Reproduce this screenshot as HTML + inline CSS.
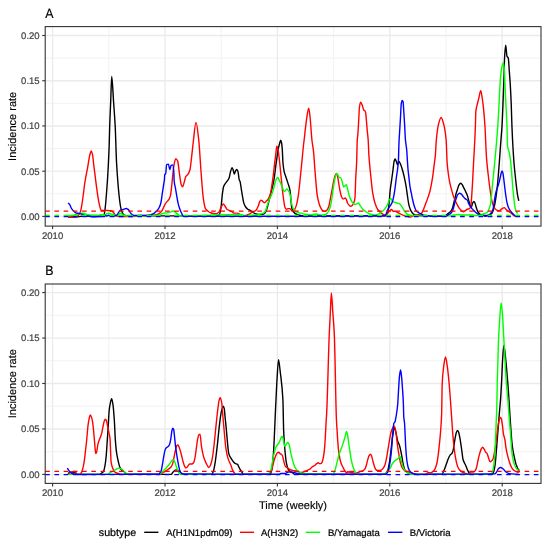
<!DOCTYPE html>
<html><head><meta charset="utf-8"><title>Incidence rate</title>
<style>html,body{margin:0;padding:0;background:#fff;}svg{display:block;}text{text-rendering:geometricPrecision;}</style>
</head><body>
<svg width="550" height="545" viewBox="0 0 550 545">
<rect width="550" height="545" fill="#fff"/>
<line x1="45.2" x2="541.0" y1="193.79" y2="193.79" stroke="#EFEFEF" stroke-width="0.8"/>
<line x1="45.2" x2="541.0" y1="148.56" y2="148.56" stroke="#EFEFEF" stroke-width="0.8"/>
<line x1="45.2" x2="541.0" y1="103.34" y2="103.34" stroke="#EFEFEF" stroke-width="0.8"/>
<line x1="45.2" x2="541.0" y1="58.11" y2="58.11" stroke="#EFEFEF" stroke-width="0.8"/>
<line x1="108.80" x2="108.80" y1="26.6" y2="226.1" stroke="#EFEFEF" stroke-width="0.8"/>
<line x1="221.20" x2="221.20" y1="26.6" y2="226.1" stroke="#EFEFEF" stroke-width="0.8"/>
<line x1="333.60" x2="333.60" y1="26.6" y2="226.1" stroke="#EFEFEF" stroke-width="0.8"/>
<line x1="446.00" x2="446.00" y1="26.6" y2="226.1" stroke="#EFEFEF" stroke-width="0.8"/>
<line x1="45.2" x2="541.0" y1="216.40" y2="216.40" stroke="#EBEBEB" stroke-width="1.35"/>
<line x1="45.2" x2="541.0" y1="171.18" y2="171.18" stroke="#EBEBEB" stroke-width="1.35"/>
<line x1="45.2" x2="541.0" y1="125.95" y2="125.95" stroke="#EBEBEB" stroke-width="1.35"/>
<line x1="45.2" x2="541.0" y1="80.73" y2="80.73" stroke="#EBEBEB" stroke-width="1.35"/>
<line x1="45.2" x2="541.0" y1="35.50" y2="35.50" stroke="#EBEBEB" stroke-width="1.35"/>
<line x1="52.60" x2="52.60" y1="26.6" y2="226.1" stroke="#EBEBEB" stroke-width="1.35"/>
<line x1="165.00" x2="165.00" y1="26.6" y2="226.1" stroke="#EBEBEB" stroke-width="1.35"/>
<line x1="277.40" x2="277.40" y1="26.6" y2="226.1" stroke="#EBEBEB" stroke-width="1.35"/>
<line x1="389.80" x2="389.80" y1="26.6" y2="226.1" stroke="#EBEBEB" stroke-width="1.35"/>
<line x1="502.20" x2="502.20" y1="26.6" y2="226.1" stroke="#EBEBEB" stroke-width="1.35"/>
<path d="M68.00,217.09 C70.91,217.02 73.82,217.00 76.73,216.87 C78.38,216.80 80.04,216.33 81.70,216.28 C89.04,216.02 96.38,216.26 103.72,215.91 C104.02,215.89 104.33,213.91 104.63,212.24 C105.55,207.21 106.47,194.57 107.39,181.05 C108.00,172.03 108.61,161.59 109.22,144.35 C109.37,140.04 109.53,131.33 109.68,126.58 C110.02,115.93 110.36,109.48 110.71,101.13 C111.05,92.78 111.39,76.45 111.74,76.45 C112.34,76.45 112.93,92.47 113.53,101.13 C114.09,109.18 114.65,115.68 115.21,126.58 C115.66,135.42 116.11,154.19 116.56,162.70 C117.10,172.89 117.64,179.66 118.18,186.00 C118.64,191.33 119.09,195.94 119.55,199.64 C119.85,202.10 120.15,204.34 120.45,206.00 C120.76,207.66 121.06,209.12 121.36,210.09 C121.67,211.06 121.97,211.69 122.27,212.36 C122.58,213.04 122.88,213.83 123.18,214.18 C123.79,214.88 124.39,215.40 125.00,215.55 C126.21,215.83 127.42,216.00 128.64,216.00 C134.09,216.00 139.55,215.91 145.00,215.91 C149.45,215.91 153.90,215.91 158.35,215.91 C177.08,215.91 195.80,215.89 214.53,215.76 C216.05,215.74 217.57,215.58 219.09,215.10 C219.74,214.90 220.39,211.12 221.04,207.29 C221.48,204.74 221.91,197.53 222.34,194.27 C222.78,191.02 223.21,187.63 223.65,186.46 C224.30,184.69 224.95,184.17 225.60,183.20 C226.25,182.24 226.90,181.57 227.55,180.60 C228.07,179.82 228.59,179.28 229.11,177.99 C229.55,176.92 229.98,173.61 230.42,172.14 C230.98,170.21 231.55,167.58 232.11,167.58 C232.54,167.58 232.98,169.54 233.41,170.83 C233.72,171.74 234.02,174.09 234.32,174.09 C234.67,174.09 235.02,172.14 235.36,171.48 C235.80,170.66 236.23,169.53 236.67,169.53 C237.10,169.53 237.53,170.43 237.97,171.48 C238.40,172.54 238.84,178.79 239.27,179.95 C239.51,180.59 239.76,180.61 240.00,181.25 C240.43,182.39 240.87,186.46 241.30,189.06 C241.74,191.67 242.17,194.51 242.60,196.88 C243.04,199.24 243.47,202.11 243.91,203.39 C244.56,205.30 245.21,206.42 245.86,207.29 C246.51,208.16 247.16,208.80 247.81,209.24 C248.68,209.83 249.55,210.03 250.42,210.55 C251.28,211.07 252.15,211.98 253.02,212.50 C253.89,213.02 254.76,213.51 255.62,213.80 C256.49,214.09 257.36,214.45 258.23,214.45 C259.31,214.45 260.40,214.45 261.48,214.45 C262.35,214.45 263.22,214.18 264.09,213.80 C264.74,213.52 265.39,212.43 266.04,211.20 C266.48,210.38 266.91,208.77 267.34,207.29 C267.99,205.08 268.65,202.08 269.30,199.48 C269.95,196.88 270.60,194.27 271.25,191.67 C271.90,189.06 272.55,187.02 273.20,183.85 C273.64,181.74 274.07,179.02 274.51,176.04 C274.94,173.07 275.37,168.87 275.81,165.62 C276.24,162.38 276.68,159.58 277.11,156.51 C277.41,154.36 277.72,151.63 278.02,150.00 C278.55,147.18 279.07,145.34 279.60,143.50 C279.97,142.22 280.33,140.10 280.70,140.10 C281.00,140.10 281.30,141.52 281.60,143.00 C281.84,144.18 282.08,146.85 282.32,150.00 C282.53,152.86 282.75,160.64 282.97,163.02 C283.40,167.78 283.84,170.31 284.27,172.14 C284.70,173.96 285.14,174.74 285.57,176.04 C286.01,177.34 286.44,178.65 286.88,179.95 C287.31,181.25 287.74,182.45 288.18,183.85 C288.78,185.83 289.39,187.20 290.00,190.36 C290.63,193.63 291.25,206.70 291.88,208.57 C292.80,211.30 293.72,212.43 294.63,213.16 C295.86,214.12 297.08,214.70 298.30,214.99 C300.44,215.49 302.58,215.91 304.72,215.91 C314.82,215.91 324.91,215.91 335.00,215.91 C351.68,215.91 368.36,215.91 385.05,215.91 C385.96,215.91 386.88,214.49 387.80,212.24 C388.23,211.19 388.65,206.88 389.08,203.06 C389.45,199.79 389.82,193.49 390.18,190.22 C390.61,186.40 391.04,184.10 391.47,181.05 C391.90,177.99 392.32,175.00 392.75,171.87 C393.24,168.29 393.73,162.34 394.22,160.86 C394.53,159.94 394.83,159.03 395.14,159.03 C395.57,159.03 395.99,160.73 396.42,161.78 C396.79,162.68 397.16,164.90 397.52,164.90 C397.95,164.90 398.38,161.23 398.81,161.23 C399.42,161.23 400.03,163.16 400.64,164.53 C401.25,165.91 401.87,167.94 402.48,170.04 C403.09,172.13 403.70,174.66 404.31,177.38 C404.92,180.09 405.54,182.91 406.15,186.55 C406.57,189.10 407.00,192.87 407.43,195.72 C407.92,198.99 408.41,202.89 408.90,204.90 C409.51,207.41 410.12,209.24 410.73,210.40 C411.65,212.14 412.57,213.49 413.49,214.07 C414.71,214.85 415.93,215.46 417.16,215.54 C421.44,215.81 425.72,215.91 430.00,215.91 C435.07,215.91 440.14,215.89 445.21,215.76 C446.08,215.73 446.94,214.45 447.81,213.80 C448.68,213.15 449.55,212.76 450.42,211.85 C451.07,211.16 451.72,210.17 452.37,208.59 C452.80,207.54 453.24,205.12 453.67,203.39 C454.11,201.65 454.54,199.91 454.97,198.18 C455.41,196.44 455.84,194.46 456.28,192.97 C456.71,191.48 457.14,190.36 457.58,189.06 C458.01,187.76 458.45,185.89 458.88,185.16 C459.44,184.20 460.01,183.20 460.57,183.20 C461.09,183.20 461.61,183.88 462.14,184.51 C462.57,185.02 463.00,186.24 463.44,187.11 C464.09,188.41 464.74,189.61 465.39,191.02 C466.04,192.42 466.69,193.73 467.34,195.57 C467.78,196.80 468.21,198.61 468.65,200.13 C469.08,201.65 469.51,203.58 469.95,204.69 C470.38,205.79 470.82,207.29 471.25,207.29 C471.68,207.29 472.12,204.25 472.55,203.39 C472.99,202.52 473.42,201.43 473.85,201.43 C474.20,201.43 474.55,202.08 474.90,202.73 C475.20,203.30 475.50,204.99 475.81,205.99 C476.24,207.41 476.68,208.85 477.11,209.90 C477.54,210.94 477.98,211.91 478.41,212.50 C479.06,213.39 479.71,214.19 480.36,214.45 C481.23,214.81 482.10,214.93 482.97,215.10 C483.83,215.28 484.69,215.54 485.55,215.54 C486.77,215.54 488.00,215.30 489.22,214.99 C490.14,214.76 491.06,214.16 491.97,213.16 C492.58,212.49 493.20,210.61 493.81,208.57 C494.42,206.53 495.03,203.16 495.64,199.39 C496.25,195.63 496.87,190.59 497.48,184.72 C498.09,178.84 498.70,170.72 499.31,162.70 C499.74,157.08 500.17,150.16 500.60,144.35 C501.07,137.92 501.54,134.00 502.02,126.00 C502.32,120.84 502.63,112.36 502.94,104.90 C503.24,97.43 503.55,89.92 503.85,81.05 C504.10,73.95 504.34,61.31 504.59,57.19 C504.95,51.02 505.32,45.27 505.69,45.27 C506.12,45.27 506.54,55.23 506.97,56.28 C507.40,57.32 507.83,56.99 508.26,58.11 C508.62,59.07 508.99,67.02 509.36,71.87 C509.66,75.92 509.97,79.68 510.28,84.72 C510.58,89.75 510.89,95.54 511.19,103.06 C511.44,109.08 511.68,120.20 511.93,126.00 C512.61,142.30 513.30,153.94 513.99,162.70 C514.60,170.48 515.21,175.61 515.83,181.05 C516.44,186.48 517.05,192.30 517.66,195.72 C518.04,197.85 518.42,199.11 518.80,200.80" fill="none" stroke="#000000" stroke-width="1.4" stroke-linejoin="round" stroke-linecap="butt"/>
<path d="M68.18,216.91 C69.39,217.06 70.61,217.36 71.82,217.36 C73.33,217.36 74.85,217.21 76.36,216.91 C76.97,216.79 77.58,216.18 78.18,215.55 C78.64,215.07 79.09,214.07 79.55,213.27 C79.86,212.72 80.18,212.36 80.50,211.53 C80.96,210.33 81.42,207.32 81.88,204.65 C82.34,201.97 82.79,198.44 83.25,195.02 C83.71,191.60 84.17,187.16 84.63,184.02 C85.09,180.87 85.55,178.26 86.00,175.76 C86.46,173.26 86.92,171.39 87.38,168.89 C87.84,166.38 88.30,163.13 88.76,160.63 C89.21,158.13 89.67,155.26 90.13,153.76 C90.50,152.55 90.86,151.00 91.23,151.00 C91.69,151.00 92.15,153.03 92.61,155.13 C92.93,156.60 93.25,160.72 93.57,163.38 C94.03,167.19 94.49,170.72 94.94,174.39 C95.40,178.06 95.86,181.97 96.32,185.39 C96.78,188.82 97.24,192.06 97.70,195.02 C98.15,197.98 98.61,201.27 99.07,203.27 C99.76,206.28 100.45,209.55 101.13,210.15 C101.36,210.35 101.59,210.55 101.82,210.55 C102.42,210.55 103.03,210.55 103.64,210.55 C104.09,210.55 104.55,210.09 105.00,210.09 C105.91,210.09 106.82,210.46 107.73,210.55 C108.64,210.63 109.55,210.62 110.45,210.73 C111.06,210.80 111.67,211.10 112.27,211.45 C112.73,211.72 113.18,212.30 113.64,212.82 C114.09,213.34 114.55,214.19 115.00,214.64 C115.61,215.23 116.21,215.77 116.82,216.00 C117.42,216.23 118.03,216.45 118.64,216.45 C120.15,216.45 121.67,216.45 123.18,216.45 C126.21,216.45 129.24,216.45 132.27,216.45 C135.30,216.45 138.33,216.21 141.36,216.00 C142.88,215.90 144.39,215.60 145.91,215.55 C147.27,215.50 148.64,215.50 150.00,215.45 C151.82,215.39 153.64,215.26 155.45,215.00 C156.67,214.83 157.88,214.31 159.09,213.64 C160.00,213.13 160.91,212.15 161.82,210.91 C162.42,210.08 163.03,208.48 163.64,207.27 C164.24,206.06 164.85,204.57 165.45,203.64 C166.06,202.70 166.67,202.12 167.27,201.36 C167.88,200.61 168.48,200.14 169.09,199.09 C169.55,198.30 170.00,197.26 170.45,195.45 C170.76,194.25 171.06,191.59 171.36,189.09 C171.67,186.60 171.97,182.84 172.27,180.00 C172.83,174.78 173.39,168.36 173.94,165.45 C174.56,162.25 175.17,158.66 175.78,158.66 C176.39,158.66 177.00,159.61 177.61,160.86 C178.23,162.12 178.84,169.75 179.45,173.71 C180.06,177.66 180.67,183.14 181.28,184.72 C181.71,185.82 182.14,186.92 182.57,186.92 C183.06,186.92 183.55,184.38 184.04,182.88 C184.65,181.01 185.26,177.41 185.87,176.46 C186.48,175.51 187.09,175.44 187.71,174.62 C188.44,173.64 189.17,172.52 189.91,170.04 C190.40,168.38 190.89,163.02 191.38,159.03 C191.99,154.04 192.60,147.45 193.21,142.51 C194.14,135.01 195.07,122.40 196.00,122.40 C196.92,122.40 197.83,131.87 198.75,140.07 C199.02,142.48 199.29,146.39 199.56,150.00 C199.99,155.82 200.43,163.49 200.86,169.53 C201.29,175.58 201.73,181.55 202.16,186.46 C202.60,191.36 203.03,196.65 203.46,199.48 C204.11,203.73 204.77,207.49 205.42,208.59 C206.28,210.07 207.15,210.55 208.02,211.20 C208.89,211.85 209.76,212.41 210.62,212.76 C211.49,213.11 212.36,213.41 213.23,213.54 C214.10,213.67 214.97,213.80 215.83,213.80 C216.48,213.80 217.14,213.50 217.79,213.15 C218.44,212.80 219.09,211.65 219.74,210.55 C220.39,209.44 221.04,206.99 221.69,205.99 C222.26,205.13 222.82,204.04 223.39,204.04 C223.91,204.04 224.43,205.25 224.95,205.99 C225.60,206.91 226.25,208.73 226.90,209.24 C227.77,209.93 228.64,210.11 229.51,210.55 C230.37,210.98 231.24,211.35 232.11,211.85 C232.76,212.22 233.41,213.15 234.06,213.15 C234.93,213.15 235.80,213.15 236.67,213.15 C237.53,213.15 238.40,213.33 239.27,213.80 C239.51,213.93 239.76,215.76 240.00,215.76 C241.30,215.76 242.60,215.76 243.91,215.76 C244.77,215.76 245.64,215.37 246.51,215.10 C247.60,214.77 248.68,214.32 249.77,213.80 C250.85,213.28 251.94,212.50 253.02,211.85 C254.11,211.20 255.19,210.94 256.28,209.90 C256.93,209.27 257.58,207.57 258.23,205.99 C258.66,204.93 259.10,202.95 259.53,202.08 C259.97,201.22 260.40,200.13 260.83,200.13 C261.27,200.13 261.70,200.49 262.14,200.78 C262.57,201.07 263.00,201.79 263.44,202.08 C263.87,202.37 264.31,202.73 264.74,202.73 C265.17,202.73 265.61,201.87 266.04,201.43 C266.69,200.78 267.34,200.37 267.99,199.48 C268.43,198.89 268.86,197.92 269.30,196.88 C269.73,195.83 270.16,194.70 270.60,192.97 C271.03,191.23 271.47,187.96 271.90,185.16 C272.34,182.35 272.77,179.46 273.20,176.04 C273.64,172.62 274.07,168.00 274.51,164.32 C274.94,160.65 275.37,157.30 275.81,153.91 C276.14,151.32 276.47,146.30 276.80,146.30 C277.17,146.30 277.53,147.63 277.90,148.90 C278.50,151.00 279.11,157.69 279.71,163.02 C280.15,166.85 280.58,171.70 281.02,176.04 C281.45,180.38 281.88,185.20 282.32,189.06 C282.75,192.92 283.19,196.50 283.62,199.48 C284.05,202.46 284.49,206.25 284.92,207.29 C285.36,208.33 285.79,209.24 286.22,209.24 C286.88,209.24 287.53,208.59 288.18,208.59 C288.78,208.59 289.39,208.59 290.00,208.59 C290.75,208.59 291.50,211.32 292.25,211.32 C293.04,211.32 293.84,210.44 294.63,209.49 C295.24,208.75 295.86,206.94 296.47,204.90 C297.08,202.86 297.69,199.66 298.30,195.72 C298.91,191.79 299.53,185.01 300.14,179.21 C300.75,173.42 301.36,166.98 301.97,160.86 C302.58,154.75 303.20,147.74 303.81,142.51 C303.91,141.60 304.02,140.87 304.13,140.00 C304.89,133.81 305.66,125.28 306.42,120.28 C307.19,115.27 307.95,108.17 308.72,108.17 C309.17,108.17 309.63,113.57 310.09,117.52 C310.70,122.80 311.31,134.45 311.93,140.00 C312.46,144.86 313.00,146.65 313.53,151.69 C314.02,156.29 314.51,164.87 315.00,171.00 C315.37,175.59 315.73,180.20 316.10,184.20 C316.47,188.20 316.83,192.83 317.20,195.20 C317.77,198.86 318.33,201.06 318.90,203.00 C319.43,204.83 319.97,206.35 320.50,207.40 C321.23,208.85 321.97,210.31 322.70,210.70 C323.43,211.09 324.17,211.40 324.90,211.40 C325.63,211.40 326.37,210.80 327.10,210.10 C327.67,209.56 328.23,208.04 328.80,206.30 C329.33,204.66 329.87,201.18 330.40,198.50 C330.97,195.66 331.53,192.72 332.10,189.70 C332.63,186.85 333.17,183.20 333.70,180.90 C334.27,178.46 334.83,175.75 335.40,174.90 C335.77,174.35 336.13,173.80 336.50,173.80 C336.87,173.80 337.23,175.22 337.60,176.50 C337.97,177.78 338.33,180.90 338.70,183.10 C339.07,185.30 339.43,187.89 339.80,189.70 C340.33,192.34 340.87,195.04 341.40,196.30 C341.97,197.64 342.53,199.10 343.10,199.10 C343.47,199.10 343.83,198.68 344.20,198.50 C344.57,198.32 344.93,198.00 345.30,198.00 C345.67,198.00 346.03,198.87 346.40,199.60 C346.77,200.33 347.13,202.29 347.50,203.00 C348.03,204.04 348.57,204.73 349.10,205.20 C349.67,205.70 350.23,206.30 350.80,206.30 C351.33,206.30 351.87,205.74 352.40,205.20 C352.97,204.63 353.53,203.56 354.10,201.90 C354.40,201.02 354.70,200.00 355.00,197.40 C355.23,195.41 355.46,184.17 355.69,179.21 C355.99,172.60 356.30,170.02 356.61,162.70 C356.83,157.37 357.05,143.38 357.27,140.00 C357.45,137.24 357.64,136.74 357.82,134.55 C358.12,130.89 358.42,125.07 358.73,120.00 C358.97,115.94 359.21,109.13 359.45,107.27 C359.82,104.49 360.18,102.18 360.55,102.18 C361.15,102.18 361.76,103.98 362.36,105.45 C362.79,106.49 363.21,109.49 363.64,110.00 C364.06,110.51 364.48,110.41 364.91,110.91 C365.15,111.19 365.39,111.76 365.64,112.73 C365.88,113.70 366.12,117.36 366.36,120.00 C366.67,123.29 366.97,127.60 367.27,130.91 C367.58,134.21 367.88,135.81 368.18,140.00 C368.42,143.31 368.66,151.71 368.90,155.36 C369.51,164.68 370.12,169.49 370.73,175.54 C371.35,181.60 371.96,188.27 372.57,192.06 C373.36,196.98 374.16,200.58 374.95,203.06 C375.87,205.93 376.79,208.18 377.71,209.49 C378.93,211.23 380.15,212.34 381.38,213.16 C382.60,213.97 383.82,214.99 385.05,214.99 C385.96,214.99 386.88,213.98 387.80,213.16 C388.41,212.61 389.02,211.33 389.63,210.77 C390.24,210.21 390.86,209.49 391.47,209.49 C392.08,209.49 392.69,211.32 393.30,211.32 C393.87,211.32 394.43,211.20 395.00,211.20 C395.87,211.20 396.74,212.07 397.60,212.50 C398.47,212.93 399.34,213.37 400.21,213.80 C401.08,214.24 401.94,214.81 402.81,215.10 C403.68,215.39 404.55,215.50 405.42,215.76 C406.28,216.01 407.15,216.48 408.02,216.67 C408.89,216.85 409.76,217.06 410.62,217.06 C411.49,217.06 412.36,216.04 413.23,215.76 C414.10,215.47 414.97,215.32 415.83,215.10 C416.70,214.89 417.57,214.70 418.44,214.45 C419.09,214.27 419.74,214.07 420.39,213.80 C420.82,213.63 421.26,213.50 421.69,213.15 C422.13,212.80 422.56,211.51 422.99,210.55 C423.43,209.58 423.86,208.41 424.30,207.29 C424.95,205.62 425.60,203.82 426.25,202.08 C426.90,200.35 427.55,198.80 428.20,196.88 C428.85,194.95 429.51,193.00 430.16,190.36 C430.59,188.61 431.02,186.22 431.46,183.85 C431.89,181.49 432.33,179.02 432.76,176.04 C433.19,173.07 433.63,169.10 434.06,165.62 C434.50,162.15 434.93,159.89 435.36,155.21 C435.69,151.74 436.01,143.41 436.33,140.00 C437.00,132.87 437.68,127.58 438.35,124.86 C439.27,121.16 440.18,117.52 441.10,117.52 C442.02,117.52 442.94,121.33 443.85,124.86 C444.62,127.80 445.38,131.59 446.15,140.00 C446.49,143.72 446.82,158.58 447.16,163.02 C447.60,168.72 448.03,171.61 448.46,174.74 C448.90,177.86 449.33,180.44 449.77,182.55 C450.42,185.72 451.07,188.00 451.72,190.36 C452.37,192.73 453.02,195.09 453.67,196.88 C454.32,198.66 454.97,200.03 455.62,201.43 C456.28,202.83 456.93,204.15 457.58,205.34 C458.23,206.52 458.88,207.78 459.53,208.59 C460.18,209.41 460.83,210.03 461.48,210.55 C462.14,211.07 462.79,211.85 463.44,211.85 C464.09,211.85 464.74,210.98 465.39,210.55 C466.04,210.11 466.69,209.53 467.34,209.24 C467.99,208.96 468.65,208.93 469.30,208.59 C469.73,208.37 470.16,208.14 470.60,207.29 C470.82,206.87 471.03,204.29 471.25,202.08 C471.47,199.87 471.68,196.21 471.90,192.97 C472.12,189.73 472.34,186.41 472.55,182.55 C472.77,178.69 472.99,173.64 473.20,169.53 C473.42,165.42 473.64,161.93 473.85,157.81 C474.37,147.96 474.89,140.62 475.41,126.00 C475.54,122.56 475.66,113.65 475.78,112.24 C476.09,108.71 476.39,108.24 476.70,106.73 C477.31,103.73 477.92,101.84 478.53,99.39 C479.27,96.46 480.00,90.59 480.73,90.59 C481.10,90.59 481.47,93.66 481.83,95.72 C482.26,98.13 482.69,101.30 483.12,104.90 C483.43,107.47 483.73,110.62 484.04,114.07 C484.34,117.53 484.65,121.21 484.95,126.00 C485.46,133.90 485.96,150.32 486.47,157.19 C487.08,165.52 487.69,170.10 488.30,175.54 C488.91,180.98 489.53,186.03 490.14,190.22 C490.75,194.41 491.36,198.78 491.97,201.23 C492.58,203.68 493.20,205.65 493.81,206.73 C494.72,208.35 495.64,209.64 496.56,210.04 C497.48,210.44 498.39,210.77 499.31,210.77 C500.23,210.77 501.15,209.07 502.06,208.57 C502.80,208.17 503.53,207.65 504.27,207.65 C504.88,207.65 505.49,208.95 506.10,209.49 C506.90,210.18 507.69,210.75 508.49,211.32 C509.40,211.98 510.32,212.46 511.24,213.16 C512.16,213.85 513.07,215.05 513.99,215.54 C514.60,215.87 515.21,216.15 515.83,216.28 C516.12,216.33 516.41,216.36 516.70,216.40" fill="none" stroke="#FF0000" stroke-width="1.4" stroke-linejoin="round" stroke-linecap="butt"/>
<path d="M68.18,215.55 C70.00,215.45 71.82,215.43 73.64,215.27 C75.15,215.14 76.67,214.14 78.18,213.73 C79.09,213.48 80.00,213.09 80.91,213.09 C81.82,213.09 82.73,213.17 83.64,213.27 C84.85,213.41 86.06,214.44 87.27,214.64 C88.79,214.88 90.30,215.09 91.82,215.09 C93.94,215.09 96.06,215.09 98.18,215.09 C99.09,215.09 100.00,214.64 100.91,214.64 C101.82,214.64 102.73,214.64 103.64,214.64 C104.09,214.64 104.55,215.09 105.00,215.09 C105.61,215.09 106.21,213.95 106.82,213.73 C107.42,213.50 108.03,213.27 108.64,213.27 C109.24,213.27 109.85,213.56 110.45,213.73 C111.36,213.98 112.27,214.38 113.18,214.64 C113.79,214.81 114.39,214.97 115.00,215.09 C115.91,215.28 116.82,215.55 117.73,215.55 C118.33,215.55 118.94,214.02 119.55,213.73 C120.00,213.51 120.45,213.27 120.91,213.27 C121.36,213.27 121.82,213.86 122.27,214.18 C122.88,214.61 123.48,215.40 124.09,215.55 C125.30,215.83 126.52,216.00 127.73,216.00 C129.24,216.00 130.76,216.00 132.27,216.00 C135.30,216.00 138.33,216.00 141.36,216.00 C144.39,216.00 147.42,215.91 150.45,215.82 C151.97,215.77 153.48,215.55 155.00,215.55 C156.12,215.54 157.23,215.54 158.35,215.54 C159.57,215.54 160.80,214.07 162.02,213.71 C163.85,213.17 165.69,212.97 167.52,212.61 C168.75,212.36 169.97,212.24 171.19,211.87 C171.80,211.69 172.42,210.95 173.03,210.95 C173.64,210.95 174.25,211.50 174.86,211.87 C175.78,212.43 176.70,213.41 177.61,214.07 C178.53,214.74 179.45,215.91 180.37,215.91 C200.24,215.91 220.12,214.45 240.00,214.45 C242.17,214.45 244.34,215.76 246.51,215.76 C248.68,215.76 250.85,215.29 253.02,215.10 C254.76,214.96 256.49,214.94 258.23,214.71 C259.10,214.60 259.97,214.06 260.83,213.80 C261.70,213.55 262.57,213.51 263.44,213.15 C264.09,212.88 264.74,212.21 265.39,211.20 C265.82,210.52 266.26,208.59 266.69,207.29 C267.13,205.99 267.56,204.69 267.99,203.39 C268.43,202.08 268.86,200.53 269.30,199.48 C269.95,197.90 270.60,197.06 271.25,195.57 C271.90,194.08 272.55,192.45 273.20,190.36 C273.85,188.28 274.51,184.64 275.16,182.55 C275.72,180.74 276.28,178.60 276.85,177.99 C277.15,177.67 277.46,177.34 277.76,177.34 C278.19,177.34 278.63,179.08 279.06,179.95 C279.50,180.82 279.93,181.59 280.36,182.55 C280.80,183.52 281.23,184.72 281.67,185.81 C282.10,186.89 282.53,188.10 282.97,189.06 C283.40,190.03 283.84,191.67 284.27,191.67 C284.70,191.67 285.14,190.80 285.57,190.36 C286.01,189.93 286.44,189.06 286.88,189.06 C287.31,189.06 287.74,189.78 288.18,190.36 C288.78,191.18 289.39,192.39 290.00,194.27 C290.63,196.21 291.25,202.73 291.88,204.90 C292.49,207.02 293.10,208.67 293.72,209.49 C294.63,210.71 295.55,211.47 296.47,211.87 C298.00,212.55 299.53,212.75 301.06,213.16 C302.28,213.48 303.50,213.86 304.72,214.07 C307.17,214.50 309.62,214.99 312.06,214.99 C313.04,214.99 314.02,214.00 315.00,214.00 C316.10,214.00 317.20,214.32 318.30,214.50 C319.40,214.68 320.50,215.10 321.60,215.10 C322.70,215.10 323.80,214.93 324.90,214.70 C325.63,214.55 326.37,214.04 327.10,213.40 C327.67,212.90 328.23,211.84 328.80,210.70 C329.33,209.62 329.87,208.23 330.40,206.30 C330.77,204.98 331.13,202.95 331.50,200.80 C331.87,198.65 332.23,195.54 332.60,193.00 C333.03,190.00 333.47,186.74 333.90,184.20 C334.40,181.27 334.90,178.18 335.40,176.50 C335.83,175.04 336.27,173.20 336.70,173.20 C337.17,173.20 337.63,174.64 338.10,175.40 C338.53,176.11 338.97,177.60 339.40,177.60 C339.80,177.60 340.20,177.60 340.60,177.60 C341.07,177.60 341.53,179.55 342.00,180.90 C342.53,182.45 343.07,187.00 343.60,187.00 C344.07,187.00 344.53,186.27 345.00,185.90 C345.47,185.53 345.93,184.80 346.40,184.80 C346.77,184.80 347.13,187.23 347.50,188.60 C348.03,190.59 348.57,193.50 349.10,195.20 C349.67,197.01 350.23,198.42 350.80,199.60 C351.33,200.71 351.87,201.72 352.40,202.40 C352.97,203.12 353.53,203.71 354.10,204.10 C354.40,204.31 354.70,204.60 355.00,204.60 C355.54,204.60 356.07,204.21 356.61,203.98 C357.22,203.72 357.83,203.06 358.44,203.06 C359.05,203.06 359.66,204.95 360.28,205.82 C361.19,207.12 362.11,208.59 363.03,209.49 C364.25,210.68 365.47,211.50 366.70,212.24 C367.92,212.97 369.14,213.67 370.37,214.07 C371.59,214.48 372.81,214.99 374.04,214.99 C375.26,214.99 376.48,214.73 377.71,214.44 C378.93,214.15 380.15,213.16 381.38,212.24 C382.60,211.32 383.82,210.12 385.05,208.57 C385.96,207.41 386.88,205.84 387.80,203.98 C388.41,202.74 389.02,200.05 389.63,199.39 C390.06,198.93 390.49,198.48 390.92,198.48 C391.41,198.48 391.90,200.83 392.39,201.23 C393.00,201.72 393.61,201.90 394.22,202.15 C395.14,202.52 396.06,202.76 396.97,203.06 C397.89,203.37 398.81,203.49 399.72,203.98 C400.64,204.47 401.56,206.29 402.48,207.65 C403.39,209.01 404.31,211.27 405.23,212.24 C406.45,213.53 407.68,214.64 408.90,214.99 C410.73,215.51 412.57,215.91 414.40,215.91 C419.60,215.91 424.80,215.91 430.00,215.91 C436.90,215.91 443.79,215.91 450.69,215.91 C451.91,215.91 453.13,215.22 454.36,214.99 C455.58,214.76 456.80,214.44 458.03,214.44 C459.25,214.44 460.47,214.99 461.70,214.99 C464.76,214.99 467.81,214.99 470.87,214.99 C472.71,214.99 474.54,215.54 476.38,215.54 C477.60,215.54 478.82,215.25 480.05,214.99 C481.27,214.73 482.49,214.16 483.72,213.71 C484.94,213.25 486.16,213.12 487.39,212.24 C488.00,211.80 488.61,210.18 489.22,208.57 C489.71,207.28 490.20,205.76 490.69,203.06 C491.12,200.71 491.54,194.66 491.97,190.22 C493.91,170.06 495.86,153.39 497.80,126.00 C498.10,121.69 498.41,116.02 498.72,110.40 C499.02,104.78 499.33,97.49 499.63,92.06 C499.94,86.62 500.24,80.90 500.55,77.38 C500.86,73.85 501.16,70.74 501.47,69.12 C502.08,65.88 502.69,62.70 503.30,62.70 C503.61,62.70 503.91,65.32 504.22,68.20 C504.53,71.09 504.83,81.98 505.14,88.39 C505.44,94.79 505.75,100.47 506.06,106.73 C506.36,113.00 506.67,117.94 506.97,126.00 C507.17,131.24 507.37,144.67 507.57,146.18 C508.06,149.91 508.55,149.46 509.04,151.69 C509.46,153.64 509.89,155.91 510.32,159.03 C510.75,162.14 511.18,166.96 511.61,171.87 C511.97,176.08 512.34,182.34 512.71,186.55 C513.13,191.46 513.56,195.83 513.99,199.39 C514.42,202.96 514.85,206.97 515.28,208.57 C515.76,210.40 516.25,211.46 516.74,212.24 C517.06,212.75 517.38,213.01 517.70,213.40" fill="none" stroke="#00FF00" stroke-width="1.4" stroke-linejoin="round" stroke-linecap="butt"/>
<path d="M68.18,202.82 C68.79,203.58 69.39,204.09 70.00,205.09 C70.45,205.84 70.91,207.50 71.36,208.27 C71.82,209.04 72.27,209.57 72.73,210.09 C73.33,210.79 73.94,211.43 74.55,211.91 C75.15,212.39 75.76,212.99 76.36,213.09 C76.97,213.20 77.58,213.19 78.18,213.27 C78.79,213.36 79.39,213.58 80.00,213.73 C80.61,213.88 81.21,214.00 81.82,214.18 C82.42,214.37 83.03,214.68 83.64,214.91 C84.24,215.14 84.85,215.37 85.45,215.55 C86.06,215.72 86.67,215.88 87.27,216.00 C88.18,216.18 89.09,216.34 90.00,216.45 C90.91,216.57 91.82,216.73 92.73,216.73 C95.45,216.73 98.18,216.63 100.91,216.45 C102.27,216.37 103.64,215.55 105.00,215.55 C105.61,215.55 106.21,216.00 106.82,216.00 C107.42,216.00 108.03,215.27 108.64,215.27 C109.24,215.27 109.85,216.00 110.45,216.00 C111.67,216.00 112.88,216.00 114.09,216.00 C115.00,216.00 115.91,215.61 116.82,215.09 C117.42,214.75 118.03,213.19 118.64,212.36 C119.24,211.54 119.85,210.25 120.45,210.09 C121.06,209.93 121.67,209.95 122.27,209.82 C122.88,209.69 123.48,209.37 124.09,209.18 C124.85,208.95 125.61,208.55 126.36,208.55 C126.82,208.55 127.27,208.89 127.73,209.18 C128.18,209.47 128.64,209.98 129.09,210.55 C129.55,211.11 130.00,212.24 130.45,212.82 C131.06,213.58 131.67,214.23 132.27,214.64 C132.88,215.04 133.48,215.55 134.09,215.55 C135.00,215.55 135.91,215.55 136.82,215.55 C138.33,215.55 139.85,215.27 141.36,215.27 C142.88,215.27 144.39,215.55 145.91,215.55 C147.27,215.55 148.64,215.27 150.00,215.00 C151.21,214.76 152.42,214.27 153.64,213.64 C154.55,213.16 155.45,212.30 156.36,211.36 C157.27,210.43 158.18,209.40 159.09,207.73 C159.70,206.61 160.30,205.13 160.91,202.73 C161.36,200.92 161.82,196.67 162.27,193.64 C162.73,190.61 163.18,187.47 163.64,184.55 C163.88,182.99 164.12,182.13 164.36,180.00 C164.50,178.81 164.63,174.91 164.77,174.62 C165.08,173.98 165.38,174.26 165.69,173.71 C165.99,173.15 166.30,164.67 166.61,164.53 C167.22,164.26 167.83,164.17 168.44,164.17 C168.87,164.17 169.30,169.67 169.72,169.67 C170.21,169.67 170.70,165.77 171.19,165.45 C171.68,165.12 172.17,164.90 172.66,164.90 C173.09,164.90 173.52,167.43 173.94,173.71 C173.99,174.42 174.04,179.36 174.09,180.00 C174.55,186.01 175.00,185.45 175.45,188.18 C175.91,190.91 176.36,193.80 176.82,196.36 C177.27,198.93 177.73,201.77 178.18,203.64 C178.64,205.50 179.09,206.84 179.55,208.18 C180.00,209.53 180.45,210.78 180.91,211.82 C181.36,212.86 181.82,213.82 182.27,214.55 C182.73,215.27 183.18,216.36 183.64,216.36 C202.42,216.36 221.21,216.31 240.00,216.28 C288.39,216.18 336.77,216.27 385.16,215.76 C385.81,215.75 386.46,212.60 387.11,211.20 C387.76,209.80 388.41,208.33 389.06,207.29 C389.71,206.25 390.36,205.74 391.02,204.69 C391.45,203.98 391.88,203.24 392.32,202.08 C392.75,200.93 393.19,198.96 393.62,196.88 C394.05,194.79 394.49,192.04 394.92,189.06 C395.36,186.09 395.79,181.89 396.22,178.65 C396.66,175.41 397.09,173.14 397.53,169.53 C397.83,167.00 398.13,165.48 398.44,160.42 C398.56,158.36 398.68,151.79 398.81,148.02 C398.90,145.13 399.00,141.88 399.09,140.00 C399.21,137.59 399.33,136.44 399.45,134.55 C399.82,128.85 400.18,122.58 400.55,116.36 C400.79,112.22 401.03,105.12 401.27,103.64 C401.58,101.78 401.88,100.36 402.18,100.36 C402.48,100.36 402.79,100.89 403.09,101.82 C403.27,102.37 403.45,106.47 403.64,109.09 C403.94,113.47 404.24,118.50 404.55,123.64 C404.85,128.77 405.15,136.60 405.45,140.00 C405.88,144.73 406.30,145.37 406.72,150.00 C406.94,152.38 407.15,157.18 407.37,160.42 C407.59,163.66 407.80,167.15 408.02,169.53 C408.37,173.34 408.72,175.64 409.06,178.65 C409.37,181.28 409.67,184.51 409.97,186.46 C410.41,189.24 410.84,190.80 411.28,192.97 C411.71,195.14 412.14,197.55 412.58,199.48 C413.01,201.41 413.45,203.20 413.88,204.69 C414.31,206.18 414.75,207.55 415.18,208.59 C415.62,209.64 416.05,210.75 416.48,211.20 C417.14,211.87 417.79,212.09 418.44,212.50 C419.31,213.05 420.17,213.65 421.04,214.06 C421.91,214.48 422.78,214.93 423.65,215.10 C425.38,215.46 427.12,215.37 428.85,215.76 C429.24,215.84 429.62,216.27 430.00,216.28 C435.07,216.39 440.14,216.41 445.21,216.41 C446.08,216.41 446.94,215.54 447.81,215.10 C448.68,214.67 449.55,214.45 450.42,213.80 C451.07,213.32 451.72,212.43 452.37,211.20 C452.80,210.38 453.24,208.78 453.67,207.29 C454.11,205.80 454.54,203.57 454.97,202.08 C455.41,200.60 455.84,199.36 456.28,198.18 C456.71,196.99 457.14,195.50 457.58,194.92 C458.23,194.06 458.88,193.23 459.53,193.23 C460.18,193.23 460.83,193.77 461.48,194.27 C462.14,194.77 462.79,196.13 463.44,196.88 C464.09,197.62 464.74,198.31 465.39,198.83 C466.04,199.35 466.69,199.42 467.34,200.13 C467.78,200.61 468.21,202.42 468.65,203.39 C469.08,204.35 469.51,205.29 469.95,205.99 C470.60,207.05 471.25,207.85 471.90,208.59 C472.55,209.34 473.20,209.90 473.85,210.55 C474.51,211.20 475.16,211.98 475.81,212.50 C476.46,213.02 477.11,213.43 477.76,213.80 C478.63,214.30 479.50,214.88 480.36,215.10 C481.67,215.44 482.97,215.32 484.27,215.76 C484.51,215.84 484.76,216.41 485.00,216.41 C486.30,216.41 487.60,215.78 488.91,215.10 C489.77,214.66 490.64,213.70 491.51,212.50 C491.94,211.90 492.38,211.16 492.81,209.90 C493.16,208.89 493.51,206.74 493.85,204.69 C494.16,202.89 494.46,199.98 494.77,198.18 C495.20,195.60 495.63,193.29 496.07,191.67 C496.50,190.04 496.94,189.06 497.37,187.76 C497.80,186.46 498.24,185.34 498.67,183.85 C499.11,182.37 499.54,180.48 499.97,178.65 C500.41,176.81 500.84,174.02 501.28,172.79 C501.58,171.92 501.88,170.83 502.19,170.83 C502.45,170.83 502.71,172.26 502.97,173.44 C503.27,174.81 503.58,177.58 503.88,179.95 C504.18,182.32 504.49,185.33 504.79,187.76 C505.14,190.54 505.49,193.21 505.83,195.57 C506.18,197.94 506.53,200.51 506.88,202.08 C507.31,204.05 507.74,205.50 508.18,206.64 C508.70,208.01 509.22,209.04 509.74,209.90 C510.39,210.96 511.04,211.76 511.69,212.50 C512.34,213.24 512.99,213.93 513.65,214.45 C514.30,214.97 514.95,215.55 515.60,215.76 C516.25,215.96 516.90,216.02 517.55,216.15" fill="none" stroke="#0000FF" stroke-width="1.4" stroke-linejoin="round" stroke-linecap="butt"/>
<line x1="45.2" x2="541.0" y1="211.0" y2="211.0" stroke="#FF0000" stroke-width="1.25" stroke-dasharray="4.61 4.61"/>
<line x1="45.2" x2="541.0" y1="215.3" y2="215.3" stroke="#00FF00" stroke-width="1.25" stroke-dasharray="4.61 4.61"/>
<line x1="45.2" x2="541.0" y1="216.5" y2="216.5" stroke="#0000FF" stroke-width="1.25" stroke-dasharray="4.61 4.61"/>
<rect x="45.2" y="26.6" width="495.80" height="199.50" fill="none" stroke="#333333" stroke-width="1.1"/>
<line x1="42.20" x2="45.2" y1="216.40" y2="216.40" stroke="#333333" stroke-width="1.1"/>
<text transform="translate(39.60,219.75) scale(1,1.0)" text-anchor="end" font-family="'Liberation Sans', Arial, Helvetica, sans-serif" font-size="9.5" fill="#444444" stroke="#444444" stroke-width="0.22">0.00</text>
<line x1="42.20" x2="45.2" y1="171.18" y2="171.18" stroke="#333333" stroke-width="1.1"/>
<text transform="translate(39.60,174.53) scale(1,1.0)" text-anchor="end" font-family="'Liberation Sans', Arial, Helvetica, sans-serif" font-size="9.5" fill="#444444" stroke="#444444" stroke-width="0.22">0.05</text>
<line x1="42.20" x2="45.2" y1="125.95" y2="125.95" stroke="#333333" stroke-width="1.1"/>
<text transform="translate(39.60,129.30) scale(1,1.0)" text-anchor="end" font-family="'Liberation Sans', Arial, Helvetica, sans-serif" font-size="9.5" fill="#444444" stroke="#444444" stroke-width="0.22">0.10</text>
<line x1="42.20" x2="45.2" y1="80.73" y2="80.73" stroke="#333333" stroke-width="1.1"/>
<text transform="translate(39.60,84.08) scale(1,1.0)" text-anchor="end" font-family="'Liberation Sans', Arial, Helvetica, sans-serif" font-size="9.5" fill="#444444" stroke="#444444" stroke-width="0.22">0.15</text>
<line x1="42.20" x2="45.2" y1="35.50" y2="35.50" stroke="#333333" stroke-width="1.1"/>
<text transform="translate(39.60,38.85) scale(1,1.0)" text-anchor="end" font-family="'Liberation Sans', Arial, Helvetica, sans-serif" font-size="9.5" fill="#444444" stroke="#444444" stroke-width="0.22">0.20</text>
<line x1="52.60" x2="52.60" y1="226.1" y2="229.10" stroke="#333333" stroke-width="1.1"/>
<text transform="translate(52.60,238.80) scale(1,1.0)" text-anchor="middle" font-family="'Liberation Sans', Arial, Helvetica, sans-serif" font-size="9.5" fill="#444444" stroke="#444444" stroke-width="0.22">2010</text>
<line x1="165.00" x2="165.00" y1="226.1" y2="229.10" stroke="#333333" stroke-width="1.1"/>
<text transform="translate(165.00,238.80) scale(1,1.0)" text-anchor="middle" font-family="'Liberation Sans', Arial, Helvetica, sans-serif" font-size="9.5" fill="#444444" stroke="#444444" stroke-width="0.22">2012</text>
<line x1="277.40" x2="277.40" y1="226.1" y2="229.10" stroke="#333333" stroke-width="1.1"/>
<text transform="translate(277.40,238.80) scale(1,1.0)" text-anchor="middle" font-family="'Liberation Sans', Arial, Helvetica, sans-serif" font-size="9.5" fill="#444444" stroke="#444444" stroke-width="0.22">2014</text>
<line x1="389.80" x2="389.80" y1="226.1" y2="229.10" stroke="#333333" stroke-width="1.1"/>
<text transform="translate(389.80,238.80) scale(1,1.0)" text-anchor="middle" font-family="'Liberation Sans', Arial, Helvetica, sans-serif" font-size="9.5" fill="#444444" stroke="#444444" stroke-width="0.22">2016</text>
<line x1="502.20" x2="502.20" y1="226.1" y2="229.10" stroke="#333333" stroke-width="1.1"/>
<text transform="translate(502.20,238.80) scale(1,1.0)" text-anchor="middle" font-family="'Liberation Sans', Arial, Helvetica, sans-serif" font-size="9.5" fill="#444444" stroke="#444444" stroke-width="0.22">2018</text>
<text transform="translate(15.6,126.35) rotate(-90)" text-anchor="middle" font-family="'Liberation Sans', Arial, Helvetica, sans-serif" font-size="11" fill="#000" stroke="#000" stroke-width="0.15">Incidence rate</text>
<text transform="translate(45.2,17.50) scale(0.95,1.03)" font-family="'Liberation Sans', Arial, Helvetica, sans-serif" font-size="13" fill="#000" stroke="#000" stroke-width="0.2">A</text>
<line x1="45.2" x2="541.0" y1="451.67" y2="451.67" stroke="#EFEFEF" stroke-width="0.8"/>
<line x1="45.2" x2="541.0" y1="406.22" y2="406.22" stroke="#EFEFEF" stroke-width="0.8"/>
<line x1="45.2" x2="541.0" y1="360.77" y2="360.77" stroke="#EFEFEF" stroke-width="0.8"/>
<line x1="45.2" x2="541.0" y1="315.32" y2="315.32" stroke="#EFEFEF" stroke-width="0.8"/>
<line x1="108.80" x2="108.80" y1="284.0" y2="483.4" stroke="#EFEFEF" stroke-width="0.8"/>
<line x1="221.20" x2="221.20" y1="284.0" y2="483.4" stroke="#EFEFEF" stroke-width="0.8"/>
<line x1="333.60" x2="333.60" y1="284.0" y2="483.4" stroke="#EFEFEF" stroke-width="0.8"/>
<line x1="446.00" x2="446.00" y1="284.0" y2="483.4" stroke="#EFEFEF" stroke-width="0.8"/>
<line x1="45.2" x2="541.0" y1="474.40" y2="474.40" stroke="#EBEBEB" stroke-width="1.35"/>
<line x1="45.2" x2="541.0" y1="428.95" y2="428.95" stroke="#EBEBEB" stroke-width="1.35"/>
<line x1="45.2" x2="541.0" y1="383.50" y2="383.50" stroke="#EBEBEB" stroke-width="1.35"/>
<line x1="45.2" x2="541.0" y1="338.05" y2="338.05" stroke="#EBEBEB" stroke-width="1.35"/>
<line x1="45.2" x2="541.0" y1="292.60" y2="292.60" stroke="#EBEBEB" stroke-width="1.35"/>
<line x1="52.60" x2="52.60" y1="284.0" y2="483.4" stroke="#EBEBEB" stroke-width="1.35"/>
<line x1="165.00" x2="165.00" y1="284.0" y2="483.4" stroke="#EBEBEB" stroke-width="1.35"/>
<line x1="277.40" x2="277.40" y1="284.0" y2="483.4" stroke="#EBEBEB" stroke-width="1.35"/>
<line x1="389.80" x2="389.80" y1="284.0" y2="483.4" stroke="#EBEBEB" stroke-width="1.35"/>
<line x1="502.20" x2="502.20" y1="284.0" y2="483.4" stroke="#EBEBEB" stroke-width="1.35"/>
<path d="M68.00,474.35 C68.73,473.63 69.45,472.18 70.18,472.18 C71.15,472.18 72.12,472.18 73.09,472.18 C73.82,472.18 74.55,472.59 75.27,472.91 C76.00,473.23 76.73,474.35 77.45,474.35 C78.87,474.35 80.28,474.35 81.70,474.35 C87.49,474.35 93.27,474.35 99.06,474.35 C99.93,474.35 100.80,473.71 101.67,473.15 C102.32,472.73 102.97,472.28 103.62,471.20 C104.05,470.47 104.49,468.30 104.92,465.99 C105.36,463.67 105.79,460.10 106.22,455.57 C106.53,452.40 106.83,447.00 107.14,442.55 C107.48,437.47 107.83,432.34 108.18,426.93 C108.52,421.51 108.87,413.13 109.22,410.00 C109.53,407.23 109.83,405.65 110.14,404.18 C110.63,401.83 111.12,398.68 111.61,398.68 C112.03,398.68 112.46,401.55 112.89,404.18 C113.38,407.19 113.87,413.59 114.36,420.70 C114.69,425.50 115.02,435.64 115.35,440.08 C115.80,446.07 116.24,450.43 116.69,453.44 C117.24,457.20 117.80,459.49 118.36,461.79 C118.91,464.08 119.47,466.46 120.03,467.63 C120.58,468.80 121.14,469.61 121.69,470.13 C122.53,470.92 123.36,471.13 124.20,471.80 C125.03,472.48 125.87,474.35 126.70,474.35 C137.25,474.35 147.80,474.35 158.35,474.35 C162.63,474.35 166.91,474.35 171.19,474.35 C171.80,474.35 172.42,472.68 173.03,472.07 C173.94,471.17 174.86,469.87 175.78,469.87 C176.70,469.87 177.61,470.23 178.53,470.61 C179.45,470.98 180.37,472.41 181.28,472.99 C182.20,473.57 183.12,474.35 184.04,474.35 C193.26,474.35 202.48,474.35 211.69,474.35 C212.36,474.35 213.03,472.17 213.70,470.13 C214.14,468.78 214.59,466.13 215.03,463.46 C215.48,460.78 215.92,457.01 216.37,453.44 C216.76,450.32 217.15,447.02 217.54,443.42 C217.93,439.83 218.32,435.38 218.71,431.74 C219.15,427.57 219.60,423.30 220.04,420.05 C220.49,416.80 220.93,413.47 221.38,411.70 C222.02,409.16 222.66,406.30 223.30,406.30 C223.63,406.30 223.97,407.41 224.30,408.80 C224.55,409.84 224.80,414.14 225.05,416.71 C225.50,421.29 225.94,425.31 226.39,430.07 C226.78,434.23 227.16,439.61 227.55,443.42 C227.94,447.24 228.33,451.91 228.72,453.44 C229.17,455.18 229.61,455.94 230.06,456.78 C230.61,457.83 231.17,458.45 231.73,459.28 C232.28,460.12 232.84,461.12 233.40,461.79 C233.95,462.45 234.51,463.17 235.07,463.46 C235.90,463.89 236.74,463.76 237.57,464.29 C237.96,464.54 238.35,466.01 238.74,466.79 C239.18,467.69 239.63,468.55 240.08,469.30 C240.63,470.23 241.19,470.96 241.74,471.80 C242.30,472.64 242.86,474.35 243.41,474.35 C252.23,474.35 261.05,474.35 269.86,474.35 C270.47,474.35 271.09,472.47 271.70,470.24 C272.19,468.45 272.68,463.15 273.17,457.39 C274.10,446.40 275.03,418.62 275.97,400.02 C276.34,392.72 276.70,384.34 277.07,378.55 C277.55,371.01 278.02,359.82 278.50,359.82 C279.13,359.82 279.75,367.79 280.37,373.04 C281.22,380.14 282.06,383.92 282.91,400.02 C283.15,404.58 283.39,424.18 283.62,429.87 C284.05,440.08 284.48,445.21 284.91,450.06 C285.40,455.59 285.89,460.41 286.38,462.90 C286.99,466.01 287.60,468.16 288.21,469.32 C288.82,470.48 289.43,471.27 290.05,471.71 C290.96,472.36 291.88,472.46 292.80,472.99 C293.41,473.35 294.02,474.35 294.63,474.35 C308.09,474.35 321.54,474.35 335.00,474.35 C351.68,474.35 368.36,474.35 385.05,474.35 C385.96,474.35 386.88,472.43 387.80,470.24 C388.41,468.78 389.02,464.83 389.63,461.06 C390.24,457.30 390.86,451.46 391.47,446.39 C391.90,442.83 392.32,437.84 392.75,435.38 C393.33,432.02 393.92,428.00 394.50,428.00 C395.66,428.00 396.83,439.17 397.99,442.13 C398.42,443.22 398.85,443.56 399.28,444.70 C399.71,445.85 400.14,447.94 400.57,449.85 C400.99,451.75 401.42,453.94 401.85,456.27 C402.28,458.61 402.71,462.11 403.14,463.98 C403.78,466.79 404.42,469.42 405.06,470.41 C405.71,471.40 406.35,471.88 406.99,472.34 C408.24,473.24 409.49,474.35 410.73,474.35 C417.16,474.35 423.58,474.35 430.00,474.35 C433.97,474.35 437.94,474.35 441.90,474.35 C442.65,474.35 443.39,471.63 444.14,469.94 C444.88,468.25 445.62,465.97 446.37,463.99 C447.11,462.00 447.86,459.72 448.60,458.04 C449.10,456.91 449.59,455.70 450.09,455.06 C450.73,454.23 451.38,454.19 452.02,453.27 C452.37,452.78 452.72,451.83 453.07,450.60 C453.41,449.36 453.76,446.71 454.11,444.64 C454.50,442.28 454.90,439.24 455.30,437.20 C455.69,435.16 456.09,432.84 456.49,431.99 C456.84,431.25 457.18,430.51 457.53,430.51 C457.88,430.51 458.22,431.25 458.57,431.99 C458.97,432.84 459.37,435.16 459.76,437.20 C460.16,439.24 460.56,441.99 460.95,444.64 C461.30,446.96 461.65,449.60 461.99,452.08 C462.34,454.56 462.69,458.22 463.04,459.52 C463.43,461.01 463.83,461.61 464.23,462.50 C464.72,463.61 465.22,464.37 465.71,465.48 C466.21,466.58 466.71,468.07 467.20,469.20 C467.80,470.55 468.39,472.26 468.99,472.92 C469.63,473.63 470.28,474.35 470.92,474.35 C477.94,474.35 484.96,474.35 491.97,474.35 C492.09,474.35 492.21,474.35 492.32,474.35 C492.82,474.35 493.31,472.85 493.81,471.43 C494.21,470.29 494.60,468.14 495.00,465.48 C495.35,463.14 495.69,458.97 496.04,455.06 C496.39,451.15 496.74,446.07 497.08,441.67 C497.48,436.63 497.88,431.75 498.27,426.79 C498.67,421.83 499.07,416.64 499.46,411.90 C499.81,407.76 500.16,404.72 500.51,400.00 C500.83,395.65 501.15,389.89 501.47,384.00 C501.90,376.14 502.32,363.44 502.75,357.39 C503.12,352.22 503.49,345.47 503.85,345.47 C504.28,345.47 504.71,350.37 505.14,353.72 C505.57,357.08 505.99,361.93 506.42,366.57 C506.91,371.87 507.40,377.60 507.89,384.00 C508.26,388.84 508.63,394.28 509.00,400.00 C509.30,404.63 509.60,410.19 509.90,414.90 C510.23,420.13 510.57,425.29 510.90,429.80 C511.20,433.86 511.50,437.83 511.80,441.00 C512.00,443.11 512.20,445.09 512.40,446.60 C512.67,448.62 512.93,450.10 513.20,451.60 C513.47,453.10 513.73,454.41 514.00,455.70 C514.30,457.15 514.60,458.50 514.90,459.80 C515.17,460.95 515.43,462.15 515.70,463.10 C515.97,464.05 516.23,464.89 516.50,465.60 C516.80,466.40 517.10,467.10 517.40,467.70 C517.80,468.51 518.20,469.30 518.60,469.80 C518.87,470.13 519.13,470.33 519.40,470.60" fill="none" stroke="#000000" stroke-width="1.4" stroke-linejoin="round" stroke-linecap="butt"/>
<path d="M68.00,472.91 C70.18,472.42 72.36,471.45 74.55,471.45 C75.52,471.45 76.48,474.35 77.45,474.35 C78.15,474.35 78.84,474.35 79.53,474.35 C80.18,474.35 80.83,473.47 81.48,472.50 C81.92,471.85 82.35,470.22 82.79,468.59 C83.22,466.97 83.65,464.75 84.09,462.08 C84.52,459.41 84.96,455.34 85.39,451.67 C85.82,447.99 86.26,444.24 86.69,439.95 C87.13,435.65 87.56,429.00 87.99,425.62 C88.43,422.25 88.86,419.57 89.30,417.81 C89.60,416.58 89.90,414.95 90.21,414.95 C90.56,414.95 90.90,415.77 91.25,416.51 C91.68,417.44 92.12,419.30 92.55,421.72 C92.90,423.65 93.25,427.38 93.59,430.83 C93.90,433.85 94.20,437.69 94.51,441.25 C94.72,443.79 94.94,447.14 95.16,449.06 C95.37,450.98 95.59,453.62 95.81,453.62 C96.11,453.62 96.41,452.63 96.72,451.67 C97.07,450.57 97.41,446.73 97.76,445.16 C98.19,443.19 98.63,441.86 99.06,440.60 C99.50,439.33 99.93,438.53 100.36,437.34 C100.80,436.16 101.23,435.07 101.67,433.44 C102.10,431.81 102.53,428.98 102.97,426.93 C103.40,424.87 103.84,422.20 104.27,421.07 C104.62,420.16 104.97,419.11 105.31,419.11 C105.66,419.11 106.01,419.75 106.35,420.42 C106.74,421.17 107.14,423.79 107.53,425.62 C107.96,427.67 108.39,429.85 108.83,432.14 C109.22,434.19 109.61,435.18 110.00,438.65 C110.36,441.87 110.73,459.25 111.09,461.81 C111.64,465.66 112.18,467.00 112.73,468.35 C113.45,470.16 114.18,471.69 114.91,472.17 C115.82,472.78 116.72,472.93 117.63,473.26 C118.72,473.66 119.81,474.35 120.91,474.35 C122.36,474.35 123.81,474.35 125.27,474.35 C125.42,474.35 125.58,474.35 125.73,474.35 C132.16,474.35 138.58,474.35 145.00,474.35 C149.45,474.35 153.90,474.35 158.35,474.35 C159.04,474.35 159.73,474.35 160.42,474.35 C161.28,474.35 162.15,473.01 163.02,472.50 C163.89,471.99 164.76,471.72 165.62,471.20 C166.49,470.68 167.36,469.90 168.23,469.24 C169.10,468.59 169.97,468.26 170.83,467.29 C171.48,466.57 172.14,465.30 172.79,463.39 C173.22,462.11 173.65,459.05 174.09,456.88 C174.52,454.70 174.96,452.15 175.39,450.36 C175.82,448.58 176.26,446.31 176.69,445.81 C177.13,445.30 177.56,444.90 177.99,444.90 C178.43,444.90 178.86,446.66 179.30,447.76 C179.73,448.86 180.16,450.18 180.60,451.67 C181.03,453.15 181.47,455.14 181.90,456.88 C182.34,458.61 182.77,460.60 183.20,462.08 C183.64,463.57 184.07,465.12 184.51,465.99 C184.94,466.86 185.37,467.94 185.81,467.94 C186.24,467.94 186.68,467.62 187.11,467.29 C187.54,466.97 187.98,465.86 188.41,465.34 C188.85,464.82 189.28,464.04 189.71,464.04 C190.36,464.04 191.02,464.04 191.67,464.04 C192.32,464.04 192.97,463.50 193.62,462.73 C194.05,462.23 194.49,460.20 194.92,458.18 C195.36,456.15 195.79,452.10 196.22,449.06 C196.66,446.02 197.09,442.16 197.53,439.95 C197.96,437.74 198.39,435.16 198.83,434.74 C199.22,434.36 199.61,434.09 200.00,434.09 C200.49,434.09 200.98,443.29 201.47,446.39 C202.08,450.25 202.69,453.27 203.30,455.56 C203.91,457.85 204.53,459.60 205.14,461.06 C205.75,462.53 206.36,463.69 206.97,464.73 C207.58,465.78 208.20,467.49 208.81,467.49 C209.42,467.49 210.03,466.07 210.64,464.73 C211.25,463.40 211.87,460.66 212.48,457.39 C213.09,454.13 213.70,448.15 214.31,442.72 C214.92,437.28 215.54,430.16 216.15,424.37 C216.76,418.57 217.37,412.40 217.98,407.85 C218.41,404.67 218.84,400.87 219.27,399.60 C219.57,398.69 219.88,397.76 220.18,397.76 C220.67,397.76 221.16,399.92 221.65,402.35 C222.08,404.48 222.51,412.17 222.94,417.03 C223.43,422.58 223.91,428.36 224.40,433.54 C224.89,438.72 225.38,444.92 225.87,448.22 C226.48,452.35 227.09,455.29 227.71,457.39 C228.47,460.03 229.24,461.62 230.00,463.31 C230.25,463.86 230.50,464.21 230.75,464.81 C231.00,465.41 231.25,466.32 231.50,467.07 C231.75,467.82 232.01,468.71 232.26,469.32 C232.63,470.24 233.01,470.98 233.38,471.58 C233.76,472.18 234.14,472.69 234.51,473.08 C235.01,473.61 235.51,474.35 236.02,474.35 C236.52,474.35 237.02,474.35 237.52,474.35 C238.52,474.35 239.52,474.35 240.53,474.35 C241.13,474.35 241.74,474.35 242.34,474.35 C250.90,474.35 259.46,474.35 268.03,474.35 C268.39,474.35 268.75,473.66 269.11,473.30 C269.80,472.63 270.48,472.33 271.17,471.25 C271.68,470.44 272.19,467.98 272.71,466.11 C273.22,464.24 273.74,461.59 274.25,459.94 C274.76,458.30 275.28,457.01 275.79,455.83 C276.31,454.66 276.82,453.04 277.33,452.75 C277.85,452.46 278.36,452.24 278.87,452.24 C279.32,452.24 279.77,453.51 280.21,453.78 C280.62,454.03 281.03,454.02 281.44,454.29 C281.79,454.52 282.13,455.09 282.47,455.83 C282.81,456.58 283.16,458.57 283.50,459.94 C283.84,461.31 284.18,463.00 284.53,464.05 C284.87,465.11 285.21,466.25 285.55,466.62 C286.07,467.19 286.58,467.29 287.10,467.65 C287.78,468.13 288.47,468.83 289.15,469.19 C290.01,469.65 290.87,470.02 291.72,470.22 C292.75,470.47 293.78,470.56 294.80,470.73 C295.83,470.91 296.86,470.97 297.89,471.25 C298.59,471.44 299.30,472.50 300.00,472.50 C300.87,472.50 301.74,472.38 302.60,472.24 C303.47,472.10 304.34,471.55 305.21,471.20 C306.08,470.85 306.94,470.53 307.81,470.16 C308.46,469.87 309.11,469.66 309.77,469.24 C310.42,468.83 311.07,467.81 311.72,467.29 C312.37,466.77 313.02,466.42 313.67,465.99 C314.32,465.56 314.97,465.22 315.62,464.69 C316.06,464.34 316.49,463.67 316.93,463.39 C317.36,463.10 317.80,462.73 318.23,462.73 C318.66,462.73 319.10,463.65 319.53,463.65 C319.97,463.65 320.40,463.65 320.83,463.65 C321.27,463.65 321.70,462.88 322.14,462.08 C322.57,461.28 323.00,459.17 323.44,456.88 C323.78,455.04 324.13,452.50 324.48,449.06 C324.78,446.05 325.09,441.15 325.39,436.04 C325.61,432.39 325.82,426.88 326.04,423.02 C326.26,419.16 326.48,416.89 326.69,412.60 C327.55,395.64 328.41,354.45 329.27,334.00 C329.63,325.25 330.00,318.61 330.37,311.52 C330.70,305.02 331.04,292.99 331.38,292.99 C331.83,292.99 332.29,305.14 332.75,311.52 C333.27,318.76 333.79,323.23 334.31,334.00 C335.03,348.82 335.74,405.20 336.46,420.42 C336.68,425.03 336.89,427.36 337.11,430.83 C337.33,434.31 337.54,438.27 337.76,441.25 C337.98,444.23 338.19,447.09 338.41,449.06 C338.72,451.82 339.02,453.78 339.32,455.57 C339.67,457.62 340.02,459.47 340.36,460.78 C340.80,462.42 341.23,463.65 341.67,464.69 C342.10,465.73 342.53,466.42 342.97,467.29 C343.40,468.16 343.84,469.15 344.27,469.90 C344.70,470.64 345.14,471.33 345.57,471.85 C346.01,472.37 346.44,473.15 346.88,473.15 C347.06,473.15 347.25,471.71 347.43,471.71 C348.36,471.71 349.28,472.06 350.21,472.24 C351.08,472.41 351.94,472.61 352.81,472.76 C353.68,472.91 354.55,473.15 355.42,473.15 C356.28,473.15 357.15,472.77 358.02,472.50 C358.89,472.23 359.76,471.78 360.62,471.46 C361.49,471.13 362.36,471.01 363.23,470.55 C363.88,470.20 364.53,469.60 365.18,468.59 C365.62,467.92 366.05,466.18 366.48,464.69 C366.92,463.20 367.35,460.97 367.79,459.48 C368.22,457.99 368.65,456.22 369.09,455.57 C369.52,454.92 369.96,454.27 370.39,454.27 C370.82,454.27 371.26,455.28 371.69,456.22 C372.13,457.17 372.56,459.81 372.99,461.43 C373.43,463.05 373.86,464.72 374.30,465.99 C374.73,467.26 375.16,468.77 375.60,469.24 C376.25,469.96 376.90,470.55 377.55,470.55 C378.20,470.55 378.85,470.55 379.51,470.55 C380.16,470.55 380.81,470.22 381.46,469.90 C382.11,469.57 382.76,468.83 383.41,467.94 C383.94,467.22 384.47,466.14 385.00,464.69 C385.43,463.50 385.87,461.56 386.30,459.48 C386.74,457.40 387.17,454.27 387.60,451.67 C388.04,449.06 388.47,446.46 388.91,443.85 C389.34,441.25 389.77,438.12 390.21,436.04 C390.64,433.96 391.08,432.17 391.51,430.83 C391.94,429.50 392.38,428.20 392.81,427.58 C393.25,426.96 393.68,426.28 394.11,426.28 C394.46,426.28 394.81,427.24 395.16,428.23 C395.46,429.10 395.76,431.35 396.07,433.44 C396.37,435.52 396.68,438.82 396.98,441.25 C397.33,444.03 397.67,446.74 398.02,449.06 C398.45,451.97 398.89,454.51 399.32,456.88 C399.76,459.24 400.19,461.76 400.62,463.39 C401.06,465.01 401.49,466.47 401.93,467.29 C402.58,468.53 403.23,469.32 403.88,469.90 C404.53,470.47 405.18,470.96 405.83,471.20 C406.70,471.52 407.57,471.63 408.44,471.85 C409.31,472.07 410.17,472.25 411.04,472.50 C412.77,473.00 414.51,474.35 416.24,474.35 C419.30,474.35 422.35,474.35 425.41,474.35 C426.50,474.35 427.58,472.44 428.67,472.44 C429.11,472.44 429.56,472.92 430.00,472.92 C430.74,472.92 431.49,472.54 432.23,472.17 C432.98,471.80 433.72,471.02 434.46,469.94 C435.21,468.86 435.95,466.81 436.70,463.99 C437.19,462.11 437.69,458.63 438.18,455.06 C438.68,451.49 439.18,446.70 439.67,441.67 C440.02,438.15 440.37,434.49 440.71,429.76 C441.01,425.71 441.31,422.66 441.61,414.88 C441.81,409.70 442.00,388.20 442.20,384.00 C442.69,373.62 443.18,370.16 443.67,366.57 C444.28,362.08 444.89,357.03 445.50,357.03 C446.12,357.03 446.73,362.46 447.34,366.57 C447.95,370.68 448.56,377.25 449.17,384.00 C449.56,388.22 449.94,393.52 450.32,398.68 C450.75,404.45 451.18,410.91 451.61,417.03 C452.03,423.14 452.46,430.32 452.89,435.38 C453.38,441.16 453.87,446.35 454.36,450.06 C454.97,454.69 455.58,458.36 456.19,461.06 C456.80,463.77 457.42,466.27 458.03,467.49 C458.94,469.31 459.86,470.47 460.78,471.16 C462.00,472.07 463.23,472.53 464.45,472.99 C465.98,473.57 467.51,474.35 469.04,474.35 C469.36,474.35 469.68,472.17 470.00,472.17 C470.99,472.17 471.98,472.17 472.98,472.17 C473.72,472.17 474.46,471.50 475.21,470.68 C475.70,470.14 476.20,468.62 476.70,466.96 C477.19,465.31 477.69,461.73 478.18,459.52 C478.68,457.32 479.18,455.27 479.67,453.57 C480.17,451.87 480.66,449.96 481.16,449.11 C481.66,448.26 482.15,447.32 482.65,447.32 C483.14,447.32 483.64,448.36 484.14,449.11 C484.63,449.85 485.13,451.42 485.62,452.08 C486.12,452.74 486.62,452.83 487.11,453.57 C487.61,454.32 488.11,456.68 488.60,458.04 C489.10,459.39 489.59,461.76 490.09,461.76 C490.59,461.76 491.08,461.38 491.58,461.01 C492.07,460.64 492.57,459.90 493.07,458.78 C493.56,457.66 494.06,454.80 494.55,452.08 C495.05,449.37 495.55,445.37 496.04,441.67 C496.54,437.96 497.03,433.16 497.53,429.76 C498.03,426.36 498.52,422.68 499.02,420.83 C499.41,419.36 499.81,417.56 500.21,417.56 C500.56,417.56 500.90,418.02 501.25,418.60 C501.65,419.26 502.04,422.59 502.44,425.30 C502.79,427.67 503.13,432.32 503.48,434.23 C503.97,436.93 504.47,437.33 504.96,440.00 C505.23,441.50 505.51,444.82 505.79,446.61 C506.20,449.29 506.61,451.33 507.02,453.22 C507.44,455.11 507.85,456.68 508.26,458.18 C508.68,459.68 509.09,461.09 509.50,462.31 C509.92,463.54 510.33,464.68 510.74,465.62 C511.16,466.56 511.57,467.44 511.98,468.10 C512.40,468.76 512.81,469.35 513.22,469.75 C513.77,470.29 514.33,470.66 514.88,470.99 C515.43,471.32 515.98,471.63 516.53,471.82 C517.08,472.00 517.63,472.23 518.18,472.23 C518.73,472.23 519.28,471.68 519.83,471.40" fill="none" stroke="#FF0000" stroke-width="1.4" stroke-linejoin="round" stroke-linecap="butt"/>
<path d="M68.00,474.35 C69.21,474.35 70.42,474.35 71.64,474.35 C74.99,474.35 78.34,474.35 81.70,474.35 C90.26,474.35 98.82,474.35 107.39,474.35 C108.26,474.35 109.13,473.20 110.00,472.72 C111.09,472.11 112.18,471.68 113.27,471.08 C114.18,470.58 115.09,469.93 116.00,469.44 C116.91,468.96 117.82,468.14 118.72,468.14 C119.81,468.14 120.91,468.80 122.00,469.44 C122.72,469.87 123.45,471.00 124.18,471.62 C124.90,472.25 125.63,472.82 126.36,473.26 C127.08,473.70 127.81,474.35 128.54,474.35 C132.36,474.35 136.18,474.35 140.00,474.35 C146.42,474.35 152.84,474.35 159.27,474.35 C160.18,474.35 161.10,472.90 162.02,472.07 C162.94,471.24 163.85,470.24 164.77,469.32 C165.69,468.40 166.61,467.62 167.52,466.57 C168.44,465.52 169.36,464.06 170.28,462.90 C171.19,461.74 172.11,459.60 173.03,459.60 C173.64,459.60 174.25,460.84 174.86,461.98 C175.35,462.89 175.84,465.20 176.33,466.57 C177.06,468.62 177.80,470.87 178.53,472.07 C179.14,473.08 179.76,474.35 180.37,474.35 C209.59,474.35 238.81,474.35 268.03,474.35 C268.94,474.35 269.86,472.43 270.78,470.24 C271.39,468.78 272.00,464.12 272.61,461.06 C273.23,458.01 273.84,454.18 274.45,451.89 C275.06,449.60 275.67,447.54 276.28,446.39 C277.20,444.65 278.12,444.34 279.04,442.72 C279.65,441.63 280.26,439.22 280.87,438.13 C281.30,437.36 281.73,436.29 282.16,436.29 C282.65,436.29 283.13,439.11 283.62,440.88 C284.05,442.43 284.48,446.39 284.91,446.39 C285.40,446.39 285.89,444.85 286.38,444.18 C286.87,443.52 287.35,442.35 287.84,442.35 C288.27,442.35 288.70,443.49 289.13,444.55 C289.74,446.07 290.35,451.01 290.96,453.72 C291.57,456.44 292.19,458.97 292.80,461.06 C293.41,463.16 294.02,465.34 294.63,466.57 C295.55,468.42 296.47,469.76 297.39,470.61 C298.30,471.45 299.22,471.98 300.14,472.44 C301.06,472.90 301.97,473.48 302.89,473.54 C312.78,474.21 322.66,474.35 332.55,474.35 C333.07,474.35 333.59,473.36 334.11,472.50 C334.46,471.93 334.81,470.96 335.16,469.90 C335.59,468.57 336.02,466.42 336.46,464.69 C336.89,462.95 337.33,461.22 337.76,459.48 C338.19,457.74 338.63,455.68 339.06,454.27 C339.71,452.16 340.36,450.80 341.02,449.06 C341.67,447.33 342.32,445.78 342.97,443.85 C343.62,441.93 344.27,439.56 344.92,437.34 C345.49,435.43 346.05,431.48 346.61,431.48 C346.92,431.48 347.22,433.33 347.53,434.74 C347.96,436.75 348.39,440.89 348.83,443.85 C349.22,446.52 349.61,449.02 350.00,451.67 C350.37,454.15 350.73,457.33 351.10,459.23 C351.71,462.39 352.32,464.69 352.94,466.57 C353.55,468.45 354.16,470.16 354.77,471.16 C355.69,472.65 356.61,474.35 357.52,474.35 C366.09,474.35 374.65,474.35 383.21,474.35 C384.71,474.35 386.21,472.47 387.71,471.05 C388.57,470.24 389.43,469.17 390.28,467.84 C390.93,466.84 391.57,465.01 392.21,463.98 C392.85,462.96 393.50,462.04 394.14,461.41 C395.00,460.58 395.85,460.09 396.71,459.49 C397.35,459.03 397.99,458.81 398.64,458.20 C399.07,457.79 399.49,456.27 399.92,456.27 C400.35,456.27 400.78,458.66 401.21,460.13 C401.64,461.60 402.07,463.98 402.49,465.27 C403.14,467.20 403.78,468.85 404.42,469.77 C405.28,470.99 406.14,471.74 406.99,472.34 C408.28,473.24 409.56,474.35 410.85,474.35 C415.57,474.35 420.28,474.35 425.00,474.35 C446.71,474.35 468.43,474.35 490.14,474.35 C490.77,474.35 491.40,473.72 492.02,472.92 C492.37,472.48 492.72,471.36 493.07,469.94 C493.41,468.52 493.76,465.60 494.11,462.50 C494.40,459.85 494.70,456.94 495.00,452.08 C495.20,448.85 495.40,442.16 495.60,437.20 C495.79,432.24 495.99,427.28 496.19,422.32 C496.39,417.36 496.59,414.18 496.79,407.44 C496.94,402.21 497.09,390.62 497.25,384.00 C497.61,368.22 497.98,353.60 498.35,344.55 C498.78,333.99 499.20,327.01 499.63,320.70 C500.12,313.48 500.61,302.90 501.10,302.90 C501.53,302.90 501.96,308.64 502.39,313.36 C502.87,318.75 503.36,330.22 503.85,339.05 C504.28,346.77 504.71,355.43 505.14,362.90 C505.57,370.36 505.99,378.39 506.42,384.00 C506.91,390.46 507.41,394.04 507.90,400.00 C508.27,404.44 508.63,410.15 509.00,414.90 C509.40,420.09 509.80,424.68 510.20,429.80 C510.53,434.07 510.87,438.68 511.20,443.00 C511.47,446.46 511.73,450.96 512.00,453.20 C512.27,455.44 512.53,456.78 512.80,458.20 C513.07,459.62 513.33,460.94 513.60,461.90 C514.03,463.46 514.47,464.56 514.90,465.60 C515.30,466.56 515.70,467.55 516.10,468.10 C516.67,468.88 517.23,469.52 517.80,469.80 C518.20,469.99 518.60,470.07 519.00,470.20" fill="none" stroke="#00FF00" stroke-width="1.4" stroke-linejoin="round" stroke-linecap="butt"/>
<path d="M67.27,468.18 C67.76,468.91 68.24,469.70 68.73,470.36 C69.21,471.02 69.70,471.73 70.18,472.18 C70.67,472.64 71.15,473.08 71.64,473.27 C72.61,473.66 73.58,473.80 74.55,474.00 C75.52,474.20 76.48,474.51 77.45,474.51 C98.30,474.51 119.15,474.28 140.00,474.28 C146.12,474.28 152.23,474.28 158.35,474.28 C158.60,474.28 158.86,474.01 159.11,473.80 C159.77,473.28 160.42,472.62 161.07,471.20 C161.50,470.25 161.94,467.05 162.37,464.69 C162.80,462.32 163.24,459.24 163.67,456.88 C164.11,454.51 164.54,451.60 164.97,450.36 C165.41,449.12 165.84,448.21 166.28,447.76 C166.93,447.09 167.58,447.08 168.23,446.46 C168.66,446.05 169.10,445.48 169.53,444.51 C169.97,443.53 170.40,441.11 170.83,438.65 C171.18,436.67 171.53,432.26 171.88,430.83 C172.18,429.59 172.48,428.23 172.79,428.23 C173.09,428.23 173.39,428.78 173.70,429.53 C173.96,430.18 174.22,433.68 174.48,436.04 C174.78,438.80 175.09,442.63 175.39,445.16 C175.82,448.77 176.26,451.47 176.69,454.27 C177.13,457.08 177.56,459.72 177.99,462.08 C178.43,464.45 178.86,466.97 179.30,468.59 C179.73,470.22 180.16,471.93 180.60,472.50 C181.25,473.36 181.90,474.06 182.55,474.06 C182.74,474.06 182.93,473.91 183.12,473.91 C202.08,473.91 221.04,474.28 240.00,474.28 C253.01,474.28 266.02,474.28 279.04,474.28 C279.65,474.28 280.26,473.54 280.87,473.54 C282.09,473.54 283.32,473.54 284.54,473.54 C285.76,473.54 286.99,472.39 288.21,472.07 C288.82,471.92 289.43,471.71 290.05,471.71 C291.27,471.71 292.49,472.15 293.72,472.44 C294.94,472.73 296.16,473.25 297.39,473.54 C298.61,473.83 299.83,474.28 301.06,474.28 C312.37,474.28 323.69,474.28 335.00,474.28 C351.68,474.28 368.36,474.28 385.05,474.28 C385.96,474.28 386.88,473.35 387.80,472.07 C388.41,471.22 389.02,468.00 389.63,464.73 C390.24,461.47 390.86,456.17 391.47,450.06 C391.90,445.77 392.32,438.10 392.75,433.54 C393.12,429.63 393.49,424.37 393.85,423.45 C394.28,422.37 394.71,422.72 395.14,421.61 C395.23,421.37 395.33,420.58 395.42,420.05 C395.77,418.16 396.11,416.52 396.45,414.27 C396.88,411.46 397.31,408.76 397.74,403.98 C398.04,400.64 398.34,393.23 398.64,388.56 C398.94,383.89 399.24,378.15 399.54,375.71 C399.88,372.91 400.22,369.92 400.57,369.92 C400.91,369.92 401.25,373.90 401.59,376.99 C401.89,379.70 402.19,384.15 402.49,388.56 C402.79,392.97 403.09,396.70 403.39,403.98 C403.52,406.96 403.64,415.49 403.76,417.03 C403.90,418.71 404.03,419.00 404.16,420.05 C404.29,421.00 404.41,421.67 404.53,423.02 C404.75,425.43 404.97,431.70 405.18,436.04 C405.40,440.38 405.62,445.86 405.83,449.06 C406.14,453.55 406.44,457.01 406.74,459.48 C407.09,462.30 407.44,464.56 407.79,465.99 C408.22,467.77 408.65,469.07 409.09,469.90 C409.74,471.13 410.39,472.02 411.04,472.50 C411.91,473.15 412.78,473.58 413.65,473.80 C414.95,474.14 416.25,474.45 417.55,474.45 C421.70,474.45 425.85,474.31 430.00,474.28 C451.57,474.08 473.15,474.26 494.72,473.91 C495.34,473.90 495.95,472.86 496.56,472.07 C497.17,471.29 497.78,469.32 498.39,468.77 C499.13,468.11 499.86,467.49 500.60,467.49 C501.39,467.49 502.19,468.21 502.98,468.77 C503.90,469.42 504.82,470.95 505.73,471.71 C506.65,472.46 507.57,473.34 508.49,473.54 C509.40,473.75 510.32,473.84 511.24,473.91 C513.69,474.10 516.13,474.15 518.58,474.28" fill="none" stroke="#0000FF" stroke-width="1.4" stroke-linejoin="round" stroke-linecap="butt"/>
<line x1="45.2" x2="541.0" y1="471.4" y2="471.4" stroke="#FF0000" stroke-width="1.25" stroke-dasharray="4.61 4.61"/>
<line x1="45.2" x2="541.0" y1="474.5" y2="474.5" stroke="#0000FF" stroke-width="1.25" stroke-dasharray="4.61 4.61"/>
<rect x="45.2" y="284.0" width="495.80" height="199.40" fill="none" stroke="#333333" stroke-width="1.1"/>
<line x1="42.20" x2="45.2" y1="474.40" y2="474.40" stroke="#333333" stroke-width="1.1"/>
<text transform="translate(39.60,477.75) scale(1,1.0)" text-anchor="end" font-family="'Liberation Sans', Arial, Helvetica, sans-serif" font-size="9.5" fill="#444444" stroke="#444444" stroke-width="0.22">0.00</text>
<line x1="42.20" x2="45.2" y1="428.95" y2="428.95" stroke="#333333" stroke-width="1.1"/>
<text transform="translate(39.60,432.30) scale(1,1.0)" text-anchor="end" font-family="'Liberation Sans', Arial, Helvetica, sans-serif" font-size="9.5" fill="#444444" stroke="#444444" stroke-width="0.22">0.05</text>
<line x1="42.20" x2="45.2" y1="383.50" y2="383.50" stroke="#333333" stroke-width="1.1"/>
<text transform="translate(39.60,386.85) scale(1,1.0)" text-anchor="end" font-family="'Liberation Sans', Arial, Helvetica, sans-serif" font-size="9.5" fill="#444444" stroke="#444444" stroke-width="0.22">0.10</text>
<line x1="42.20" x2="45.2" y1="338.05" y2="338.05" stroke="#333333" stroke-width="1.1"/>
<text transform="translate(39.60,341.40) scale(1,1.0)" text-anchor="end" font-family="'Liberation Sans', Arial, Helvetica, sans-serif" font-size="9.5" fill="#444444" stroke="#444444" stroke-width="0.22">0.15</text>
<line x1="42.20" x2="45.2" y1="292.60" y2="292.60" stroke="#333333" stroke-width="1.1"/>
<text transform="translate(39.60,295.95) scale(1,1.0)" text-anchor="end" font-family="'Liberation Sans', Arial, Helvetica, sans-serif" font-size="9.5" fill="#444444" stroke="#444444" stroke-width="0.22">0.20</text>
<line x1="52.60" x2="52.60" y1="483.4" y2="486.40" stroke="#333333" stroke-width="1.1"/>
<text transform="translate(52.60,496.10) scale(1,1.0)" text-anchor="middle" font-family="'Liberation Sans', Arial, Helvetica, sans-serif" font-size="9.5" fill="#444444" stroke="#444444" stroke-width="0.22">2010</text>
<line x1="165.00" x2="165.00" y1="483.4" y2="486.40" stroke="#333333" stroke-width="1.1"/>
<text transform="translate(165.00,496.10) scale(1,1.0)" text-anchor="middle" font-family="'Liberation Sans', Arial, Helvetica, sans-serif" font-size="9.5" fill="#444444" stroke="#444444" stroke-width="0.22">2012</text>
<line x1="277.40" x2="277.40" y1="483.4" y2="486.40" stroke="#333333" stroke-width="1.1"/>
<text transform="translate(277.40,496.10) scale(1,1.0)" text-anchor="middle" font-family="'Liberation Sans', Arial, Helvetica, sans-serif" font-size="9.5" fill="#444444" stroke="#444444" stroke-width="0.22">2014</text>
<line x1="389.80" x2="389.80" y1="483.4" y2="486.40" stroke="#333333" stroke-width="1.1"/>
<text transform="translate(389.80,496.10) scale(1,1.0)" text-anchor="middle" font-family="'Liberation Sans', Arial, Helvetica, sans-serif" font-size="9.5" fill="#444444" stroke="#444444" stroke-width="0.22">2016</text>
<line x1="502.20" x2="502.20" y1="483.4" y2="486.40" stroke="#333333" stroke-width="1.1"/>
<text transform="translate(502.20,496.10) scale(1,1.0)" text-anchor="middle" font-family="'Liberation Sans', Arial, Helvetica, sans-serif" font-size="9.5" fill="#444444" stroke="#444444" stroke-width="0.22">2018</text>
<text transform="translate(15.6,383.70) rotate(-90)" text-anchor="middle" font-family="'Liberation Sans', Arial, Helvetica, sans-serif" font-size="11" fill="#000" stroke="#000" stroke-width="0.15">Incidence rate</text>
<text transform="translate(45.2,274.50) scale(0.95,1.03)" font-family="'Liberation Sans', Arial, Helvetica, sans-serif" font-size="13" fill="#000" stroke="#000" stroke-width="0.2">B</text>
<text x="293.0" y="508.8" text-anchor="middle" font-family="'Liberation Sans', Arial, Helvetica, sans-serif" font-size="11" fill="#000" stroke="#000" stroke-width="0.15">Time (weekly)</text>
<text transform="translate(98.80,536.30) scale(1,1.0)" font-family="'Liberation Sans', Arial, Helvetica, sans-serif" font-size="10.7" fill="#000" stroke="#000" stroke-width="0.22">subtype</text>
<line x1="144.2" x2="158.4" y1="532.3" y2="532.3" stroke="#000000" stroke-width="1.4"/>
<text transform="translate(166.20,535.90) scale(1,1.0)" font-family="'Liberation Sans', Arial, Helvetica, sans-serif" font-size="9.55" fill="#000" stroke="#000" stroke-width="0.22">A(H1N1pdm09)</text>
<line x1="240.0" x2="254.0" y1="532.3" y2="532.3" stroke="#FF0000" stroke-width="1.4"/>
<text transform="translate(261.00,535.90) scale(1,1.0)" font-family="'Liberation Sans', Arial, Helvetica, sans-serif" font-size="9.55" fill="#000" stroke="#000" stroke-width="0.22">A(H3N2)</text>
<line x1="305.8" x2="320.2" y1="532.3" y2="532.3" stroke="#00FF00" stroke-width="1.4"/>
<text transform="translate(328.00,535.90) scale(1,1.0)" font-family="'Liberation Sans', Arial, Helvetica, sans-serif" font-size="9.55" fill="#000" stroke="#000" stroke-width="0.22">B/Yamagata</text>
<line x1="388.0" x2="402.4" y1="532.3" y2="532.3" stroke="#0000FF" stroke-width="1.4"/>
<text transform="translate(409.80,535.90) scale(1,1.0)" font-family="'Liberation Sans', Arial, Helvetica, sans-serif" font-size="9.55" fill="#000" stroke="#000" stroke-width="0.22">B/Victoria</text>
</svg>
</body></html>
